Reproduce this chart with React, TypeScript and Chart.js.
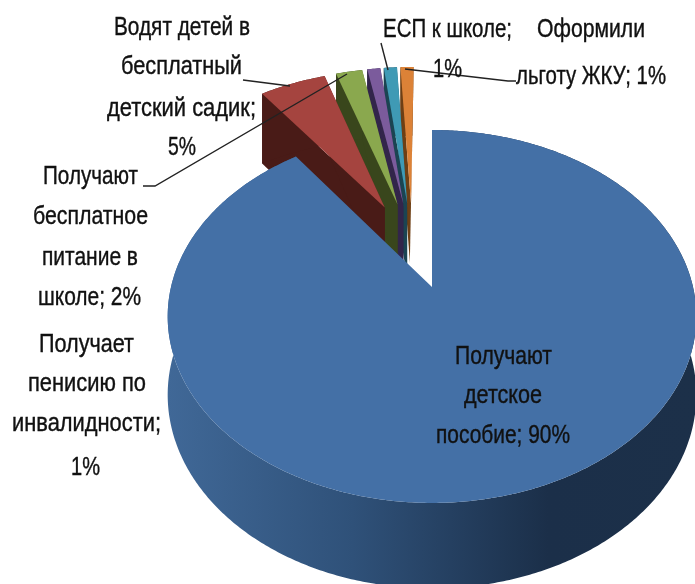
import React, { useEffect, useRef } from "react";
import { Chart, registerables } from "chart.js";

Chart.register(...registerables);

const categories = [
  "Получают детское пособие",
  "Водят детей в бесплатный детский садик",
  "Получают бесплатное питание в школе",
  "Получает пенисию по инвалидности",
  "ЕСП к школе",
  "Оформили льготу ЖКУ",
];
const shares = [90, 5, 2, 1, 1, 1];
const topColors = ["#4470a6", "#a5443f", "#8aa84e", "#7b5b9c", "#3f9ab5", "#dc8237"];
const wallColors = ["#2a4a6e", "#491b17", "#39461c", "#32254a", "#1b4452", "#6e3f14"];
const paintOrder = [5, 4, 3, 2, 1, 0];

// [text, left, right, vertical centre]
const labelLines: [string, number, number, number][] = [
  ["Водят детей в", 114, 250, 28],
  ["бесплатный", 121, 242, 67],
  ["детский садик;", 107, 256, 109],
  ["5%", 168, 196, 148],
  ["ЕСП к школе;", 383, 512, 30],
  ["1%", 433, 462, 70],
  ["Оформили", 537, 645, 30],
  ["льготу ЖКУ; 1%", 516, 666, 77],
  ["Получают", 43, 138, 177],
  ["бесплатное", 33, 148, 217],
  ["питание в", 42, 138, 258],
  ["школе; 2%", 38, 141, 298],
  ["Получает", 39, 134, 345],
  ["пенисию по", 28, 146, 384],
  ["инвалидности;", 12, 161, 424],
  ["1%", 71, 100, 468],
  ["Получают", 455, 552, 357],
  ["детское", 464, 542, 396],
  ["пособие; 90%", 436, 570, 436],
];

const leaders: [number, number][][] = [
  [[243, 80], [290, 86]],
  [[143, 186], [155, 186], [347, 74]],
  [[381, 43], [388, 70]],
  [[405, 69], [508, 81], [516, 81]],
];

const VIEW = { x: 432, y: 287, a: 261, b: 181.8, k: 0.158, depthA: 33.6, depthB: 43.7 };

function project(u: number, v: number): [number, number] {
  const w = 1 + VIEW.k * v;
  return [VIEW.x + (VIEW.a * u) / w, VIEW.y - (VIEW.b * v) / w];
}
function drop(u: number, v: number): [number, number] {
  const w = 1 + VIEW.k * v;
  const p = project(u, v);
  return [p[0], p[1] + VIEW.depthA + VIEW.depthB / w];
}
function fillPoly(ctx: CanvasRenderingContext2D, pts: [number, number][], fill: any) {
  ctx.beginPath();
  pts.forEach((p, i) => (i ? ctx.lineTo(p[0], p[1]) : ctx.moveTo(p[0], p[1])));
  ctx.closePath();
  ctx.fillStyle = fill;
  ctx.fill();
}

const projectedPie = {
  id: "projectedPie",
  beforeDatasetsDraw(chart: any) {
    const ctx: CanvasRenderingContext2D = chart.ctx;
    const arcs = chart.getDatasetMeta(0).data;
    const dir = (a: number): [number, number] => [Math.cos(a), -Math.sin(a)];
    const first = arcs[0];
    const e = first.options.offset / first.outerRadius;
    const firstDir = dir((first.startAngle + first.endAngle) / 2);
    const c0: [number, number] = [-e * firstDir[0], -e * firstDir[1]];

    ctx.save();
    for (const i of paintOrder) {
      const arc = arcs[i];
      const d = dir((arc.startAngle + arc.endAngle) / 2);
      const apex: [number, number] = [c0[0] + e * d[0], c0[1] + e * d[1]];
      const rim: [number, number][] = [];
      const steps = Math.max(4, Math.ceil((arc.endAngle - arc.startAngle) / 0.01));
      for (let s = 0; s <= steps; s++) {
        const a = arc.startAngle + ((arc.endAngle - arc.startAngle) * s) / steps;
        const r = dir(a);
        rim.push([apex[0] + r[0], apex[1] + r[1]]);
      }
      const startRim = rim[0];
      const endRim = rim[rim.length - 1];
      const pApex = project(apex[0], apex[1]);
      const pEnd = project(endRim[0], endRim[1]);
      const outer = [
        ...rim.map((p) => project(p[0], p[1])),
        ...rim.slice().reverse().map((p) => drop(p[0], p[1])),
      ];
      if (i === 0) {
        const g = ctx.createLinearGradient(168, 0, 696, 0);
        g.addColorStop(0, "#406897");
        g.addColorStop(0.35, "#2f5179");
        g.addColorStop(0.72, "#1b2f49");
        g.addColorStop(1, "#1c3049");
        fillPoly(ctx, outer, g);
      } else {
        // side faces stay on the near (left) side of the slice's right edge
        const ex = pEnd[0] - pApex[0];
        const ey = pEnd[1] - pApex[1];
        ctx.save();
        ctx.beginPath();
        ctx.moveTo(pApex[0] - ex * 3, pApex[1] - ey * 3);
        ctx.lineTo(pApex[0] + ex * 3, pApex[1] + ey * 3);
        ctx.lineTo(-2000, pApex[1] + ey * 3);
        ctx.lineTo(-2000, pApex[1] - ey * 3);
        ctx.closePath();
        ctx.clip();
        const wall = wallColors[i];
        fillPoly(ctx, [pApex, project(startRim[0], startRim[1]), drop(startRim[0], startRim[1]), drop(apex[0], apex[1])], wall);
        fillPoly(ctx, [pApex, pEnd, drop(endRim[0], endRim[1]), drop(apex[0], apex[1])], wall);
        fillPoly(ctx, outer, wall);
        ctx.restore();
      }
      fillPoly(ctx, [pApex, ...rim.map((p) => project(p[0], p[1]))], arc.options.backgroundColor);
    }

    ctx.strokeStyle = "#222";
    ctx.lineWidth = 1.4;
    for (const line of leaders) {
      ctx.beginPath();
      line.forEach((p, i) => (i ? ctx.lineTo(p[0], p[1]) : ctx.moveTo(p[0], p[1])));
      ctx.stroke();
    }

    ctx.fillStyle = "#111";
    ctx.strokeStyle = "#111";
    ctx.lineWidth = 0.4;
    ctx.font = '26px "Liberation Sans Narrow", "Liberation Sans", sans-serif';
    ctx.textAlign = "center";
    ctx.textBaseline = "middle";
    for (const [text, l, r, y] of labelLines) {
      ctx.fillText(text, (l + r) / 2, y, r - l);
      ctx.strokeText(text, (l + r) / 2, y, r - l);
    }
    ctx.restore();
    return false;
  },
};

export default function App() {
  const ref = useRef<HTMLCanvasElement>(null);
  useEffect(() => {
    const chart = new Chart(ref.current!, {
      type: "pie",
      data: {
        labels: categories,
        datasets: [{ data: shares, backgroundColor: topColors, borderWidth: 0, offset: 66 }],
      },
      options: {
        responsive: false,
        animation: false,
        plugins: { legend: { display: false }, tooltip: { enabled: false } },
      },
      plugins: [projectedPie],
    } as any);
    return () => chart.destroy();
  }, []);
  return (
    <div style={{ position: "absolute", left: 0, top: 0, width: 695, height: 584, overflow: "hidden", background: "#fff" }}>
      <canvas ref={ref} width={695} height={584} style={{ display: "block", filter: "blur(0.7px)" }} />
    </div>
  );
}
